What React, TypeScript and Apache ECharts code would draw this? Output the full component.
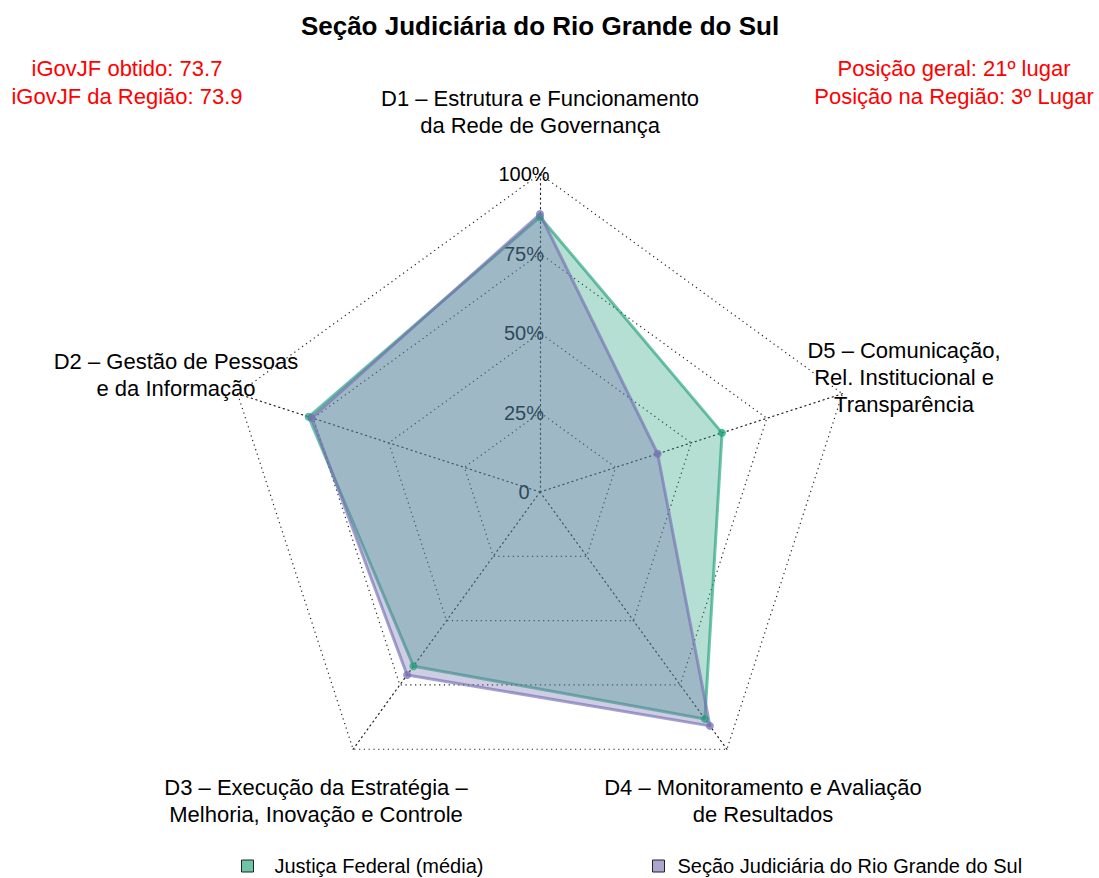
import React, { useEffect, useRef } from "react";
import * as echarts from "echarts";

const indicatorNames = [
  "D1 – Estrutura e Funcionamento\nda Rede de Governança",
  "D2 – Gestão de Pessoas\ne da Informação",
  "D3 – Execução da Estratégia –\nMelhoria, Inovação e Controle",
  "D4 – Monitoramento e Avaliação\nde Resultados",
  "D5 – Comunicação,\nRel. Institucional e\nTransparência",
];
const seriesNames = ["Justiça Federal (média)", "Seção Judiciária do Rio Grande do Sul"];
const justicaFederal = [86.5, 76.5, 67.7, 88.2, 60.2];
const secaoRS = [87.4, 75.5, 71.1, 90.9, 38.9];
const tickLabels = ["0", "25%", "50%", "75%", "100%"];
const titleText = "Seção Judiciária do Rio Grande do Sul";
const leftNotes = ["iGovJF obtido: 73.7", "iGovJF da Região: 73.9"];
const rightNotes = ["Posição geral: 21º lugar", "Posição na Região: 3º Lugar"];

const FONT = "'Liberation Sans', Arial, Helvetica, sans-serif";
const namePositions = [
  { x: 540, y: 84.5 },
  { x: 176, y: 347.5 },
  { x: 316, y: 773.5 },
  { x: 763, y: 773.5 },
  { x: 904, y: 336.5 },
];

export default function App() {
  const ref = useRef<HTMLDivElement>(null);
  useEffect(() => {
    if (!ref.current) return;
    const chart = echarts.init(ref.current, null, { renderer: "svg" });
    const labelStyle = {
      show: true,
      fontSize: 20,
      fontFamily: FONT,
      color: "#000",
      align: "center",
      margin: 16,
      formatter: (_v: number, i: number) => tickLabels[i],
    };
    const option: any = {
      animation: false,
      backgroundColor: "#fff",
      title: {
        text: titleText,
        left: 540,
        textAlign: "center",
        top: 13,
        padding: 0,
        textStyle: { fontSize: 26, fontWeight: "bold", color: "#000", fontFamily: FONT },
      },
      legend: [
        {
          data: [
            {
              name: seriesNames[0],
              itemStyle: { color: "#6dc4a8", borderColor: "#222", borderWidth: 1 },
            },
          ],
          left: 241,
          top: 856,
          padding: 0,
          icon: "rect",
          itemWidth: 12,
          itemHeight: 12,
          selectedMode: false,
          textStyle: { fontSize: 20, fontFamily: FONT, color: "#000", padding: [0, 0, 0, 16] },
        },
        {
          data: [
            {
              name: seriesNames[1],
              itemStyle: { color: "#aba6d0", borderColor: "#222", borderWidth: 1 },
            },
          ],
          left: 652,
          top: 856,
          padding: 0,
          icon: "rect",
          itemWidth: 12,
          itemHeight: 12,
          selectedMode: false,
          textStyle: { fontSize: 20, fontFamily: FONT, color: "#000", padding: [0, 0, 0, 8] },
        },
      ],
      radar: {
        center: [540, 492],
        radius: 318,
        startAngle: 90,
        shape: "polygon",
        splitNumber: 4,
        indicator: indicatorNames.map((name, i) => ({
          name,
          min: 0,
          max: 100,
          axisLabel: i === 0 ? labelStyle : { show: false },
        })),
        axisName: { show: false },
        splitLine: { lineStyle: { color: "#222", width: 1.2, type: [1.2, 3.6] } },
        splitArea: { show: false },
        axisLine: { lineStyle: { color: "#222", width: 1.2, type: [1.2, 3.6] } },
        axisTick: { show: false },
        axisLabel: { show: false },
      },
      series: [
        {
          type: "radar",
          symbol: "circle",
          symbolSize: 8,
          data: [
            {
              name: seriesNames[0],
              value: justicaFederal,
              lineStyle: { color: "rgba(27,158,119,0.62)", width: 3 },
              areaStyle: { color: "rgba(27,158,119,0.33)", opacity: 1 },
              itemStyle: { color: "rgba(27,158,119,0.7)" },
            },
            {
              name: seriesNames[1],
              value: secaoRS,
              lineStyle: { color: "rgba(117,112,179,0.65)", width: 3 },
              areaStyle: { color: "rgba(117,112,179,0.35)", opacity: 1 },
              itemStyle: { color: "rgba(117,112,179,0.75)" },
            },
          ],
        },
      ],
      graphic: [
        ...indicatorNames.map((name, i) => ({
          type: "text",
          x: namePositions[i].x,
          y: namePositions[i].y,
          style: {
            text: name,
            fontSize: 22,
            fontFamily: FONT,
            fill: "#000",
            textAlign: "center",
            textVerticalAlign: "top",
            lineHeight: 27,
          },
        })),
        {
          type: "text",
          x: 127,
          y: 54,
          style: {
            text: leftNotes.join("\n"),
            fontSize: 22,
            fontFamily: FONT,
            fill: "#ff0000",
            textAlign: "center",
            textVerticalAlign: "top",
            lineHeight: 28,
          },
        },
        {
          type: "text",
          x: 954,
          y: 54,
          style: {
            text: rightNotes.join("\n"),
            fontSize: 22,
            fontFamily: FONT,
            fill: "#ff0000",
            textAlign: "center",
            textVerticalAlign: "top",
            lineHeight: 28,
          },
        },
      ],
    };
    chart.setOption(option);
    return () => chart.dispose();
  }, []);
  return (
    <div
      ref={ref}
      style={{ position: "fixed", left: 0, top: 0, width: 1099, height: 878, background: "#fff" }}
    />
  );
}
